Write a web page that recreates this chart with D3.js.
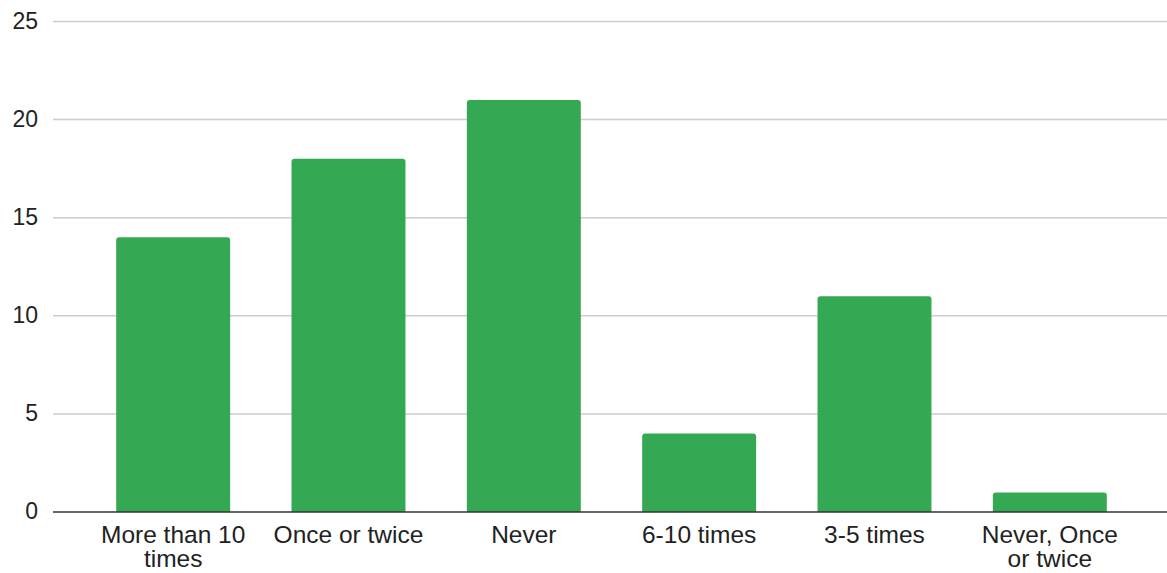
<!DOCTYPE html>
<html><head><meta charset="utf-8">
<script src="https://cdn.jsdelivr.net/npm/d3@7"></script>
<style>
html,body{margin:0;padding:0;background:#fff;}
text{font-family:"Liberation Sans",Arial,sans-serif;}
</style></head>
<body><svg id="c" width="1167" height="573"></svg>
<script>
const categories = ["More than 10 times", "Once or twice", "Never", "6-10 times", "3-5 times", "Never, Once or twice"];
const labelLines = [["More than 10","times"],["Once or twice"],["Never"],["6-10 times"],["3-5 times"],["Never, Once","or twice"]];
const values = [14, 18, 21, 4, 11, 1];
const yTicks = [0, 5, 10, 15, 20, 25];

const svg = d3.select("#c");
const mLeft = 53, mRight = 1167, mTop = 21.5, mBottom = 512;

const x = d3.scaleBand().domain(categories).range([85.5, 1137.5]).paddingInner(0.35).paddingOuter(0.175);
const y = d3.scaleLinear().domain([0, 25]).range([mBottom, mTop]);

// gridlines
svg.append("g").selectAll("line").data(yTicks.filter(d => d !== 0)).join("line")
  .attr("x1", mLeft).attr("x2", mRight)
  .attr("y1", d => y(d)).attr("y2", d => y(d))
  .attr("stroke", "#cccccc").attr("stroke-width", 1.5);

// y labels
svg.append("g").selectAll("text").data(yTicks).join("text")
  .attr("x", 38).attr("y", d => y(d) + 7)
  .attr("text-anchor", "end").attr("font-size", 23).attr("fill", "#222")
  .text(d => d);

// bars with rounded top corners
const r = 3;
svg.append("g").selectAll("path").data(values).join("path")
  .attr("fill", "#34a853")
  .attr("d", (d, i) => {
    const x0 = x(categories[i]), w = x.bandwidth(), y0 = y(d), yb = y(0);
    return `M${x0},${yb}V${y0 + r}Q${x0},${y0} ${x0 + r},${y0}H${x0 + w - r}Q${x0 + w},${y0} ${x0 + w},${y0 + r}V${yb}Z`;
  });

// baseline
svg.append("line").attr("x1", mLeft).attr("x2", mRight).attr("y1", mBottom).attr("y2", mBottom)
  .attr("stroke", "#333").attr("stroke-width", 1.5);

// x labels
const xl = svg.append("g").selectAll("text").data(categories).join("text")
  .attr("text-anchor", "middle").attr("font-size", 24.5).attr("fill", "#222");
xl.each(function(d, i) {
  const t = d3.select(this);
  const cx = x(d) + x.bandwidth() / 2;
  labelLines[i].forEach((ln, j) => {
    t.append("tspan").attr("x", cx).attr("y", 543 + j * 24).text(ln);
  });
});
</script></body></html>
